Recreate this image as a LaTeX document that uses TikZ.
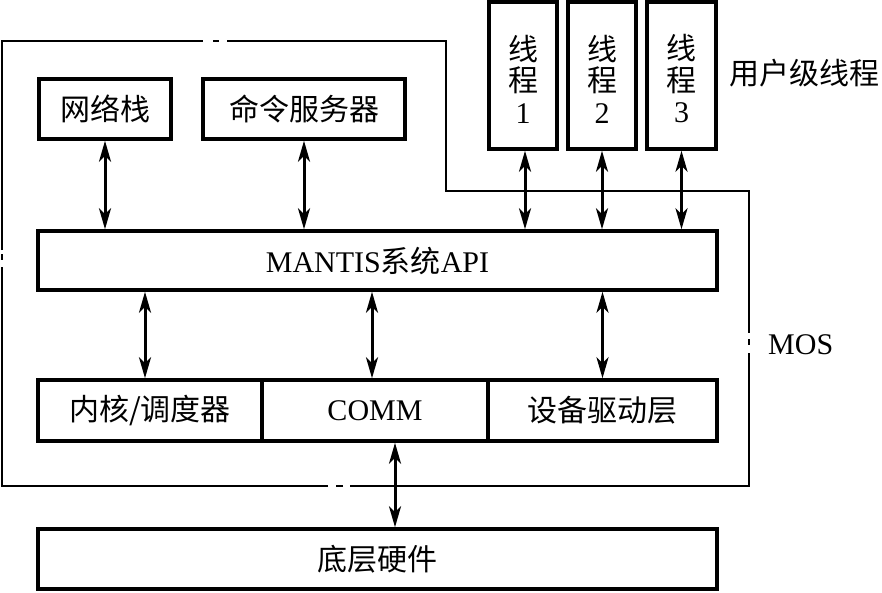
\documentclass[tikz,border=0pt]{standalone}
\usepackage{fontspec}
\setmainfont{Liberation Serif}
\newfontfamily\cjk{Noto Sans CJK SC}
\usetikzlibrary{arrows.meta}
\begin{document}
\begin{tikzpicture}[x=1pt,y=-1pt,
  every node/.style={font=\fontsize{30}{31.5}\selectfont},
  box/.style={draw, line width=3.5pt, inner sep=0pt},
  ttext/.style={align=center, inner sep=0pt},
  tip/.tip={Stealth[length=21pt,width=12pt,inset=6pt]},
  arr/.style={line width=3pt, tip-tip},
  bound/.style={line width=1.5pt}]
\useasboundingbox (0,0) rectangle (882,592);
% outer MOS boundary
\draw[bound] (2,250) -- (2,41) -- (203,41);
\draw[bound] (213,41) -- (219,41);
\draw[bound] (227,41) -- (446,41) -- (446,191) -- (749,191) -- (749,333);
\draw[bound] (749,339) -- (749,345);
\draw[bound] (749,353) -- (749,486) -- (350,486);
\draw[bound] (343,486) -- (336,486);
\draw[bound] (328,486) -- (2,486) -- (2,267);
\draw[bound] (2,254) -- (2,260);
% boxes
\node[box, minimum width=132pt, minimum height=60pt] (net) at (105,109) {\cjk 网络栈};
\node[box, minimum width=202pt, minimum height=60pt] (cmd) at (304,109) {\cjk 命令服务器};
\node[box, minimum width=68pt, minimum height=147pt] (t1) at (523,75.5) {};
\node[box, minimum width=68pt, minimum height=147pt] (t2) at (602,75.5) {};
\node[box, minimum width=69pt, minimum height=147pt] (t3) at (681.5,75.5) {};
\node[ttext] (t1txt) at (523,79) {{\cjk 线}\\{\cjk 程}\\1};
\node[ttext] (t2txt) at (602,79) {{\cjk 线}\\{\cjk 程}\\2};
\node[ttext] (t3txt) at (681.5,79) {{\cjk 线}\\{\cjk 程}\\3};
\node[box, minimum width=679pt, minimum height=59pt] (api) at (377.5,260.5) {MANTIS{\cjk 系统}API};
\node[box, minimum width=224pt, minimum height=61pt] (kern) at (150,410.5) {\cjk 内核/调度器};
\node[box, minimum width=226pt, minimum height=61pt] (comm) at (375,410.5) {COMM};
\node[box, minimum width=229pt, minimum height=61pt] (dev) at (602.5,410.5) {\cjk 设备驱动层};
\node[box, minimum width=679pt, minimum height=60pt] (hw) at (377.5,559) {\cjk 底层硬件};
\node[anchor=west, inner sep=0pt] (ult) at (729,73) {\cjk 用户级线程};
\node[anchor=west, inner sep=0pt] (mos) at (768,345) {MOS};
% connectors
\draw[arr] (net.south) -- (net.south |- api.north);
\draw[arr] (cmd.south) -- (cmd.south |- api.north);
\draw[arr] ([xshift=2pt]t1.south) -- ([xshift=2pt]t1.south |- api.north);
\draw[arr] (t2.south) -- (t2.south |- api.north);
\draw[arr] (t3.south) -- (t3.south |- api.north);
\draw[arr] ([xshift=-5pt]kern.north |- api.south) -- ([xshift=-5pt]kern.north);
\draw[arr] ([xshift=-3pt]comm.north |- api.south) -- ([xshift=-3pt]comm.north);
\draw[arr] (dev.north |- api.south) -- (dev.north);
\draw[arr] ([xshift=20pt]comm.south) -- ([xshift=20pt]comm.south |- hw.north);
\end{tikzpicture}
\end{document}
